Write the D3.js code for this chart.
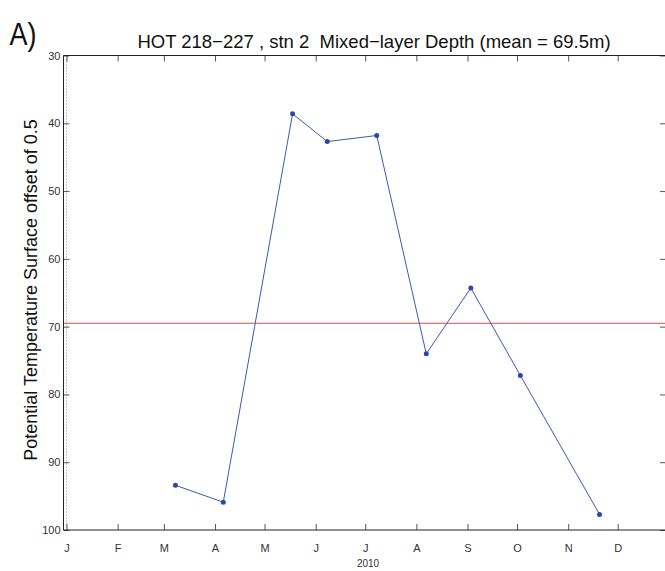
<!DOCTYPE html>
<html><head><meta charset="utf-8">
<script src="https://cdn.jsdelivr.net/npm/d3@7"></script>
<style>body{margin:0;background:#fff}svg{display:block}text{font-family:"Liberation Sans",Arial,sans-serif}</style>
</head><body>
<svg id="c" width="665" height="571"></svg>
<script>
const dates = ["2010-03-08","2010-04-06","2010-05-18","2010-06-08","2010-07-08","2010-08-07","2010-09-03","2010-10-03","2010-11-20"];
const depths = [93.4, 95.9, 38.6, 42.7, 41.8, 74.0, 64.3, 77.2, 97.7];
const meanDepth = 69.5;
const yTicks = [30,40,50,60,70,80,90,100];
const monthTicks = ["2010-01-01","2010-02-01","2010-03-01","2010-04-01","2010-05-01","2010-06-01","2010-07-01","2010-08-01","2010-09-01","2010-10-01","2010-11-01","2010-12-01"];
const titleText = "HOT 218\u2212227 , stn 2  Mixed\u2212layer Depth (mean = 69.5m)";
const yLabel = "Potential Temperature Surface offset of 0.5";
const panelLabel = "A)";
const yearLabel = "2010";

const parse = s => { const [y,m,d] = s.split("-").map(Number); return new Date(y, m-1, d); };
const svg = d3.select("#c");
const L = 63.5, R = 666, T = 55.5, B = 530;

const x = d3.scaleTime().domain([parse("2010-01-01"), parse("2010-12-01")]).range([66.5, 617.7]);
const y = d3.scaleLinear().domain([30, 100]).range([T, B]);

// dotted line at Jan 1
svg.append("line").attr("x1", x(parse(monthTicks[0]))).attr("x2", x(parse(monthTicks[0])))
  .attr("y1", T).attr("y2", B).attr("stroke", "#888").attr("stroke-width", 1).attr("stroke-dasharray", "1,2");

// mean line
svg.append("line").attr("x1", L).attr("x2", R).attr("y1", y(meanDepth)).attr("y2", y(meanDepth))
  .attr("stroke", "#e04848").attr("stroke-width", 1);

const mt = monthTicks.map(parse);
const axB = d3.axisBottom(x).tickValues(mt).tickSize(-6).tickPadding(14).tickFormat(d => d3.timeFormat("%b")(d)[0]);
const gB = svg.append("g").attr("transform", `translate(0,${B})`).call(axB);
const axT = d3.axisTop(x).tickValues(mt).tickSize(-6).tickFormat("");
const gT = svg.append("g").attr("transform", `translate(0,${T})`).call(axT);
const axL = d3.axisLeft(y).tickValues(yTicks).tickSize(-6).tickPadding(3);
const gL = svg.append("g").attr("transform", `translate(${L},0)`).call(axL);
const axR = d3.axisRight(y).tickValues(yTicks).tickSize(-6).tickFormat("");
const gR = svg.append("g").attr("transform", `translate(${R},0)`).call(axR);
[gB,gT,gL,gR].forEach(g => {
  g.select(".domain").remove();
  g.selectAll(".tick line").attr("stroke", "#555");
  g.selectAll(".tick text").attr("fill", "#333").style("font-size", "11px").style("font-family", "'Liberation Sans',Arial,sans-serif");
});
// frame
svg.append("path").attr("d", `M${L},${T}H${R}M${L},${T}V${B}H${R}`).attr("fill","none").attr("stroke","#222").attr("stroke-width",1);

// data line
const pts = dates.map((d,i) => ({d: parse(d), v: depths[i]}));
svg.append("path").datum(pts).attr("fill","none").attr("stroke","#3a5ab0").attr("stroke-width",1)
  .attr("d", d3.line().x(p => x(p.d)).y(p => y(p.v)));
svg.selectAll("circle.pt").data(pts).join("circle").attr("class","pt")
  .attr("cx", p => x(p.d)).attr("cy", p => y(p.v)).attr("r", 2.5).attr("fill", "#2a48a8");

// texts
svg.append("text").attr("x", 374).attr("y", 48).attr("text-anchor","middle").style("font-size","18.5px").style("white-space","pre").attr("fill","#111").text(titleText);
svg.append("text").attr("x", 11).attr("y", 45).style("font-size","31px").attr("fill","#111").attr("transform","scale(0.87,1)").text(panelLabel);
svg.append("text").attr("transform","translate(37,290) rotate(-90)").attr("text-anchor","middle").style("font-size","18px").attr("fill","#111").text(yLabel);
svg.append("text").attr("x", 368).attr("y", 567).attr("text-anchor","middle").style("font-size","10px").attr("fill","#333").text(yearLabel);
</script>
</body></html>
